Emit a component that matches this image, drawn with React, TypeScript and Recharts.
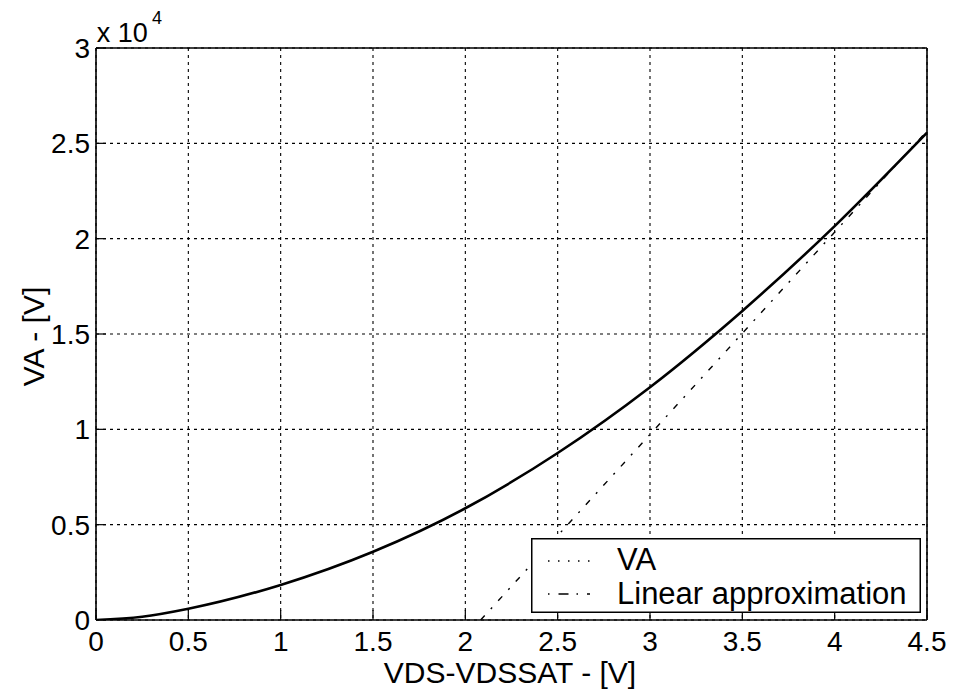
import React from 'react';
import { LineChart, Line, XAxis, YAxis, CartesianGrid, Legend, Customized } from 'recharts';

const FONT = '"Liberation Sans", Arial, Helvetica, sans-serif';

// VA curve (x in V, y in V)
const vaX = [0, 0.25, 0.5, 1, 1.5, 2, 2.5, 3, 3.5, 4, 4.5];
const vaY = [0, 170, 590, 1840, 3580, 5860, 8760, 12210, 16210, 20660, 25560];

// Linear approximation
const linX = [2.083, 4.5];
const linY = [0, 25650];

const xTicks = [0, 0.5, 1, 1.5, 2, 2.5, 3, 3.5, 4, 4.5];
const xTickLabels = ['0', '0.5', '1', '1.5', '2', '2.5', '3', '3.5', '4', '4.5'];
const yTicks = [0, 5000, 10000, 15000, 20000, 25000, 30000];
const yTickLabels = ['0', '0.5', '1', '1.5', '2', '2.5', '3'];

const seriesNames = ['VA', 'Linear approximation'];
const xTitle = 'VDS-VDSSAT - [V]';
const yTitle = 'VA - [V]';

const vaData = vaX.map((x, i) => ({ x, y: vaY[i] }));
const linData = linX.map((x, i) => ({ x, y: linY[i] }));

const LegendBox = () => (
  <svg width={390} height={75} style={{ display: 'block' }}>
    <rect x={0.75} y={0.75} width={388.5} height={73.5} fill="#fff" stroke="#000" strokeWidth={1.5} />
    <line x1={17} x2={59} y1={23} y2={23} stroke="#000" strokeWidth={1.5} strokeDasharray="1.5 8.5" />
    <line x1={17} x2={59} y1={56} y2={56} stroke="#000" strokeWidth={1.5} strokeDasharray="1.5 9 10 8" />
    <text x={86} y={21} dominantBaseline="central" fontFamily={FONT} fontSize={31} fill="#000">{seriesNames[0]}</text>
    <text x={86} y={55} dominantBaseline="central" fontFamily={FONT} fontSize={31} fill="#000">{seriesNames[1]}</text>
  </svg>
);

const Titles = () => (
  <g>
    <text x={88.7} y={33.7} fontFamily={FONT} fontSize={27} fill="#000">x 10</text>
    <text x={144} y={16} fontFamily={FONT} fontSize={18} fill="#000">4</text>
    <text x={502} y={675} textAnchor="middle" fontFamily={FONT} fontSize={30} fill="#000">{xTitle}</text>
    <text x={25} y={328.5} textAnchor="middle" dominantBaseline="central" transform="rotate(-90 25 328.5)" fontFamily={FONT} fontSize={30} fill="#000">{yTitle}</text>
  </g>
);

const axisLine = { stroke: '#000', strokeWidth: 1.6 };
const tickLine = { stroke: '#000', strokeWidth: 1.2 };

export default function App() {
  return (
    <LineChart width={941} height={683} margin={{ top: 39, right: 21, left: 0, bottom: 0 }}>
      <CartesianGrid stroke="#000" strokeWidth={1.1} strokeDasharray="3 4" horizontalValues={yTicks} verticalValues={xTicks} />
      <XAxis
        dataKey="x"
        type="number"
        domain={[0, 4.5]}
        ticks={xTicks}
        interval={0}
        height={71}
        allowDataOverflow
        tickFormatter={(v: number) => xTickLabels[xTicks.indexOf(v)]}
        tick={{ fill: '#000', fontSize: 28, fontFamily: FONT }}
        tickSize={-10}
        tickMargin={21}
        axisLine={axisLine}
        tickLine={tickLine}
      />
      <XAxis
        xAxisId="top"
        orientation="top"
        dataKey="x"
        type="number"
        domain={[0, 4.5]}
        ticks={xTicks}
        interval={0}
        height={1}
        tick={false}
        tickSize={-10}
        axisLine={axisLine}
        tickLine={tickLine}
      />
      <YAxis
        type="number"
        domain={[0, 30000]}
        ticks={yTicks}
        interval={0}
        width={88}
        allowDataOverflow
        tickFormatter={(v: number) => yTickLabels[yTicks.indexOf(v)]}
        tick={{ fill: '#000', fontSize: 28, fontFamily: FONT }}
        tickSize={-10}
        tickMargin={16}
        axisLine={axisLine}
        tickLine={tickLine}
      />
      <YAxis
        yAxisId="right"
        orientation="right"
        type="number"
        domain={[0, 30000]}
        ticks={yTicks}
        interval={0}
        width={1}
        tick={false}
        tickSize={-10}
        axisLine={axisLine}
        tickLine={tickLine}
      />
      <Line
        data={vaData}
        dataKey="y"
        name={seriesNames[0]}
        type="monotone"
        stroke="#000"
        strokeWidth={2.6}
        dot={false}
        isAnimationActive={false}
      />
      <Line
        data={linData}
        dataKey="y"
        name={seriesNames[1]}
        type="linear"
        stroke="#000"
        strokeWidth={1.4}
        strokeDasharray="6 9 2 9"
        dot={false}
        isAnimationActive={false}
      />
      <Legend
        layout="vertical"
        align="center"
        verticalAlign="middle"
        content={() => <LegendBox />}
        wrapperStyle={{ left: 523, top: 530, width: 390, height: 75 }}
      />
      <Customized component={Titles} />
    </LineChart>
  );
}
